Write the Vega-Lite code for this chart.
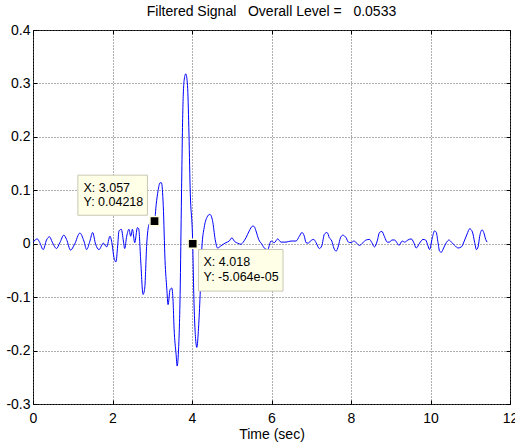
{
  "$schema": "https://vega.github.io/schema/vega-lite/v6.json",
  "autosize": "none",
  "width": 477,
  "height": 374,
  "padding": {"left": 33, "top": 30, "right": 5, "bottom": 40},
  "background": "white",
  "config": {
    "font": "Liberation Sans",
    "view": {"stroke": "black", "strokeWidth": 1},
    "axis": {
      "labelFont": "Liberation Sans",
      "labelFontSize": 14,
      "labelColor": "black",
      "labelFlush": false,
      "labelOverlap": false,
      "titleFont": "Liberation Sans",
      "titleFontSize": 14,
      "titleFontWeight": "normal",
      "titleColor": "black",
      "domain": false,
      "ticks": false,
      "tickColor": "black",
      "tickSize": 4,
      "gridColor": "#5f5f5f",
      "gridDash": [1, 2],
      "gridWidth": 1
    }
  },
  "title": {
    "text": "Filtered Signal\u00a0\u00a0\u00a0Overall Level =\u00a0\u00a0\u00a00.0533",
    "fontSize": 14,
    "fontWeight": "normal",
    "font": "Liberation Sans",
    "color": "black",
    "anchor": "middle",
    "offset": 4
  },
  "datasets": {
    "signal": [
      {"t": 0.005, "v": 0.003}, {"t": 0.106, "v": 0.009}, {"t": 0.171, "v": 0.002}, {"t": 0.257, "v": -0.011},
      {"t": 0.34, "v": 0.007}, {"t": 0.416, "v": 0.013}, {"t": 0.484, "v": 0.003}, {"t": 0.592, "v": -0.009},
      {"t": 0.676, "v": 0.002}, {"t": 0.776, "v": 0.016}, {"t": 0.844, "v": 0.008}, {"t": 0.945, "v": -0.012},
      {"t": 1.046, "v": -0.001}, {"t": 1.18, "v": 0.02}, {"t": 1.281, "v": 0.005}, {"t": 1.349, "v": -0.011},
      {"t": 1.432, "v": 0.005}, {"t": 1.5, "v": 0.021}, {"t": 1.575, "v": -0.001}, {"t": 1.659, "v": -0.011},
      {"t": 1.77, "v": 0.001}, {"t": 1.853, "v": -0.006}, {"t": 1.936, "v": 0.014}, {"t": 1.991, "v": -0.001},
      {"t": 2.037, "v": -0.026}, {"t": 2.087, "v": -0.034}, {"t": 2.13, "v": -0.004}, {"t": 2.163, "v": 0.024},
      {"t": 2.223, "v": 0.027}, {"t": 2.274, "v": 0.005}, {"t": 2.307, "v": -0.009}, {"t": 2.357, "v": 0.014},
      {"t": 2.415, "v": 0.027}, {"t": 2.458, "v": 0.014}, {"t": 2.501, "v": 0.027}, {"t": 2.559, "v": 0.002},
      {"t": 2.627, "v": 0.03}, {"t": 2.659, "v": 0.028}, {"t": 2.71, "v": -0.032}, {"t": 2.768, "v": -0.095},
      {"t": 2.811, "v": -0.083}, {"t": 2.861, "v": -0.001}, {"t": 2.919, "v": 0.036}, {"t": 2.987, "v": 0.041},
      {"t": 3.057, "v": 0.04218}, {"t": 3.1, "v": 0.074}, {"t": 3.146, "v": 0.099}, {"t": 3.196, "v": 0.114},
      {"t": 3.232, "v": 0.114}, {"t": 3.277, "v": 0.071}, {"t": 3.322, "v": -0.032}, {"t": 3.365, "v": -0.083},
      {"t": 3.398, "v": -0.114}, {"t": 3.448, "v": -0.086}, {"t": 3.491, "v": -0.083}, {"t": 3.524, "v": -0.108},
      {"t": 3.549, "v": -0.158}, {"t": 3.6, "v": -0.207}, {"t": 3.625, "v": -0.229}, {"t": 3.66, "v": -0.201},
      {"t": 3.701, "v": -0.095}, {"t": 3.736, "v": 0.093}, {"t": 3.769, "v": 0.249}, {"t": 3.801, "v": 0.305},
      {"t": 3.844, "v": 0.318}, {"t": 3.887, "v": 0.296}, {"t": 3.92, "v": 0.218}, {"t": 3.953, "v": 0.105},
      {"t": 4.018, "v": -0.00005}, {"t": 4.045, "v": -0.095}, {"t": 4.096, "v": -0.183}, {"t": 4.122, "v": -0.194},
      {"t": 4.164, "v": -0.158}, {"t": 4.205, "v": -0.095}, {"t": 4.248, "v": -0.008}, {"t": 4.306, "v": 0.03},
      {"t": 4.374, "v": 0.049}, {"t": 4.449, "v": 0.055}, {"t": 4.517, "v": 0.043}, {"t": 4.583, "v": 0.008},
      {"t": 4.643, "v": -0.008}, {"t": 4.727, "v": -0.004}, {"t": 4.853, "v": 0.002}, {"t": 4.936, "v": 0.005},
      {"t": 5.004, "v": 0.011}, {"t": 5.062, "v": 0.005}, {"t": 5.148, "v": 0.001}, {"t": 5.231, "v": -0.001},
      {"t": 5.289, "v": 0.003}, {"t": 5.357, "v": 0.011}, {"t": 5.44, "v": 0.024}, {"t": 5.526, "v": 0.033},
      {"t": 5.566, "v": 0.032}, {"t": 5.609, "v": 0.024}, {"t": 5.677, "v": 0.008}, {"t": 5.76, "v": -0.001},
      {"t": 5.818, "v": -0.008}, {"t": 5.904, "v": -0.011}, {"t": 5.987, "v": 0.005}, {"t": 6.07, "v": 0.002},
      {"t": 6.156, "v": 0.009}, {"t": 6.239, "v": 0.003}, {"t": 6.365, "v": 0.003}, {"t": 6.491, "v": 0.005},
      {"t": 6.617, "v": 0.005}, {"t": 6.7, "v": 0.014}, {"t": 6.768, "v": 0.021}, {"t": 6.826, "v": 0.014},
      {"t": 6.869, "v": 0.002}, {"t": 6.927, "v": 0.001}, {"t": 6.978, "v": 0.005}, {"t": 7.063, "v": 0.008},
      {"t": 7.121, "v": 0.002}, {"t": 7.204, "v": -0.009}, {"t": 7.265, "v": -0.004}, {"t": 7.331, "v": 0.018},
      {"t": 7.398, "v": 0.021}, {"t": 7.457, "v": 0.011}, {"t": 7.517, "v": 0.005}, {"t": 7.568, "v": -0.008},
      {"t": 7.626, "v": -0.014}, {"t": 7.683, "v": -0.004}, {"t": 7.734, "v": 0.011}, {"t": 7.794, "v": 0.016},
      {"t": 7.877, "v": 0.011}, {"t": 7.935, "v": 0.003}, {"t": 8.004, "v": 0.002}, {"t": 8.071, "v": 0.005},
      {"t": 8.13, "v": 0.002}, {"t": 8.213, "v": -0.003}, {"t": 8.299, "v": 0.002}, {"t": 8.382, "v": 0.007},
      {"t": 8.465, "v": 0.008}, {"t": 8.525, "v": 0.002}, {"t": 8.591, "v": -0.006}, {"t": 8.659, "v": 0.005},
      {"t": 8.717, "v": 0.021}, {"t": 8.777, "v": 0.023}, {"t": 8.843, "v": 0.013}, {"t": 8.911, "v": 0.003},
      {"t": 8.969, "v": 0.003}, {"t": 9.03, "v": 0.007}, {"t": 9.095, "v": 0.007}, {"t": 9.163, "v": 0.001},
      {"t": 9.206, "v": -0.003}, {"t": 9.289, "v": 0.005}, {"t": 9.347, "v": 0.003}, {"t": 9.433, "v": 0.007},
      {"t": 9.516, "v": 0.009}, {"t": 9.574, "v": 0.003}, {"t": 9.642, "v": -0.008}, {"t": 9.725, "v": 0.001},
      {"t": 9.811, "v": 0.008}, {"t": 9.877, "v": 0.007}, {"t": 9.937, "v": -0.004}, {"t": 9.977, "v": -0.011},
      {"t": 10.045, "v": 0.011}, {"t": 10.103, "v": 0.024}, {"t": 10.146, "v": 0.021}, {"t": 10.189, "v": 0.002},
      {"t": 10.229, "v": -0.014}, {"t": 10.272, "v": -0.016}, {"t": 10.33, "v": -0.008}, {"t": 10.398, "v": 0.002},
      {"t": 10.466, "v": 0.007}, {"t": 10.524, "v": 0.003}, {"t": 10.608, "v": -0.003}, {"t": 10.693, "v": -0.008},
      {"t": 10.776, "v": -0.006}, {"t": 10.86, "v": 0.007}, {"t": 10.92, "v": 0.018}, {"t": 10.986, "v": 0.028},
      {"t": 11.054, "v": 0.022}, {"t": 11.112, "v": 0.002}, {"t": 11.155, "v": -0.011}, {"t": 11.197, "v": -0.006},
      {"t": 11.238, "v": 0.014}, {"t": 11.298, "v": 0.026}, {"t": 11.339, "v": 0.021}, {"t": 11.389, "v": 0.008},
      {"t": 11.424, "v": 0.003}
    ],
    "tips": [
      {"x": 3.057, "y": 0.04218, "bx1": 1.129, "bx2": 2.879, "by1": 0.0533, "by2": 0.1283, "tx": 1.27, "ty": 0.097, "label": "X: 3.057\nY: 0.04218"},
      {"x": 4.018, "y": -0.00005064, "bx1": 4.164, "bx2": 6.29, "by1": -0.0887, "by2": -0.0109, "tx": 4.29, "ty": -0.0418, "label": "X: 4.018\nY: -5.064e-05"}
    ]
  },
  "layer": [
    {
      "data": {"name": "signal"},
      "mark": {"type": "line", "color": "#0000ff", "strokeWidth": 1, "interpolate": "monotone", "clip": true},
      "encoding": {
        "x": {"field": "t", "type": "quantitative",
              "scale": {"domain": [0, 12], "nice": false, "zero": false},
              "axis": {"orient": "bottom", "values": [0, 2, 4, 6, 8, 10, 12], "title": "Time (sec)", "labelPadding": 7, "titlePadding": 2, "grid": true}},
        "y": {"field": "v", "type": "quantitative",
              "scale": {"domain": [-0.3, 0.4], "nice": false, "zero": false},
              "axis": {"orient": "left", "values": [-0.3, -0.2, -0.1, 0, 0.1, 0.2, 0.3, 0.4], "title": null, "labelPadding": 3, "grid": true,
                       "labelExpr": "datum.value < 0 ? '-' + format(-datum.value, '.1~f') : format(datum.value, '.1~f')"}}
      }
    },
    {
      "data": {"name": "tips"},
      "mark": {"type": "rect", "fill": "#ffffe8", "stroke": "#c8c8b4", "strokeWidth": 1},
      "encoding": {
        "x": {"field": "bx1", "type": "quantitative",
              "axis": {"orient": "top", "values": [0, 2, 4, 6, 8, 10, 12], "labels": false, "title": null, "grid": false, "ticks": true, "offset": -4}},
        "x2": {"field": "bx2"},
        "y": {"field": "by1", "type": "quantitative",
              "axis": {"orient": "right", "values": [-0.3, -0.2, -0.1, 0, 0.1, 0.2, 0.3, 0.4], "labels": false, "title": null, "grid": false, "ticks": true, "offset": -4}},
        "y2": {"field": "by2"}
      }
    },
    {
      "data": {"name": "tips"},
      "mark": {"type": "text", "align": "left", "baseline": "alphabetic", "fontSize": 12.5, "font": "Liberation Sans", "color": "black", "lineBreak": "\n", "lineHeight": 14.5},
      "encoding": {
        "x": {"field": "tx", "type": "quantitative",
              "axis": {"orient": "bottom", "values": [0, 2, 4, 6, 8, 10, 12], "labels": false, "title": null, "grid": false, "ticks": true, "offset": -4}},
        "y": {"field": "ty", "type": "quantitative",
              "axis": {"orient": "left", "values": [-0.3, -0.2, -0.1, 0, 0.1, 0.2, 0.3, 0.4], "labels": false, "title": null, "grid": false, "ticks": true, "offset": -4}},
        "text": {"field": "label"}
      }
    },
    {
      "data": {"name": "tips"},
      "mark": {"type": "point", "shape": "square", "filled": true, "size": 85, "color": "black", "stroke": "#ffffe0", "strokeWidth": 1.5, "opacity": 1},
      "encoding": {
        "x": {"field": "x", "type": "quantitative", "axis": null},
        "y": {"field": "y", "type": "quantitative", "axis": null}
      }
    }
  ]
}
